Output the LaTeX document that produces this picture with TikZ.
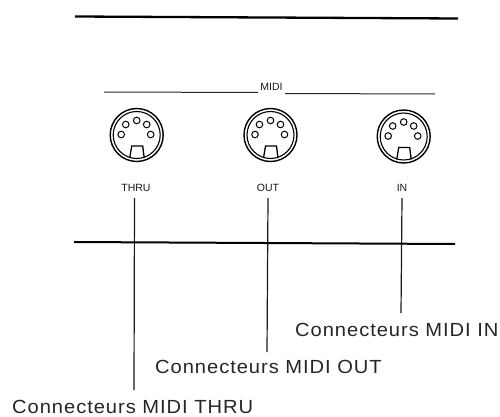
\documentclass[tikz,border=0pt]{standalone}
\usepackage{fontspec}
\setmainfont{Liberation Sans}
\newfontfamily\widefont[LetterSpace=5,FakeStretch=1.06]{Liberation Sans}
\tikzset{
 lbl/.style={inner sep=0pt,font=\widefont\fontsize{19}{22}\selectfont,text=black!85},
 small/.style={inner sep=0pt,font=\fontsize{10.5}{12}\selectfont,text=black!90},
 rule/.style={draw=black,line width=2.3pt},
 midrule/.style={draw=black,line width=2pt},
 thin rule/.style={draw=black!85,line width=1pt},
 leader/.style={draw=black!90,line width=1.2pt},
 din/.pic={
  \draw[line width=1.4pt] (0,0) circle (26.5);
  \draw[line width=1.1pt] (0,0) circle (23.5);
  \foreach \a/\b in {0/-14.5,-11/-10.5,10/-10.5,-15.5/-0.5,14/-0.5}
    \draw[line width=1pt] (\a,\b) circle (3.3);
  \draw[line width=1.3pt] (-7,23) -- (-5,11) -- (6,11) -- (7.5,23);
 }
}
\begin{document}
\begin{tikzpicture}[x=1pt,y=-1pt]
\useasboundingbox[fill=white] (0,0) rectangle (500,417);
\coordinate (t1) at (75,16.5); \coordinate (t2) at (458,18.5);
\draw[rule] (t1) -- (t2);
\node[small] (midi) at (271.5,87) {MIDI};
\coordinate (m1) at (104,92); \coordinate (m2) at (435,94);
\draw[thin rule] (m1) -- (258,92.5);
\draw[thin rule] (285,93.5) -- (m2);
\pic at (136.7,135) {din};
\pic at (270.5,135) {din};
\pic at (403.7,136.5) {din};
\node[small] (thru) at (136,188) {THRU};
\node[small] (out) at (268,188) {OUT};
\node[small] (in) at (402,188) {IN};
\coordinate (b1) at (74,242); \coordinate (b2) at (455,244);
\node[lbl,anchor=west] (lin) at (295,330) {Connecteurs MIDI IN};
\node[lbl,anchor=west] (lout) at (155,367) {Connecteurs MIDI OUT};
\node[lbl,anchor=west] (lthru) at (12,407) {Connecteurs MIDI THRU};
\coordinate (c1) at (134,390); \coordinate (c2) at (267,352); \coordinate (c3) at (401,313);
\coordinate (s1) at (134.5,198); \coordinate (s2) at (268,198); \coordinate (s3) at (402,198);
\draw[leader] (s1) -- (c1);
\draw[leader] (s2) -- (c2);
\draw[leader] (s3) -- (c3);
\draw[midrule] (b1) -- (b2);
\end{tikzpicture}
\end{document}
